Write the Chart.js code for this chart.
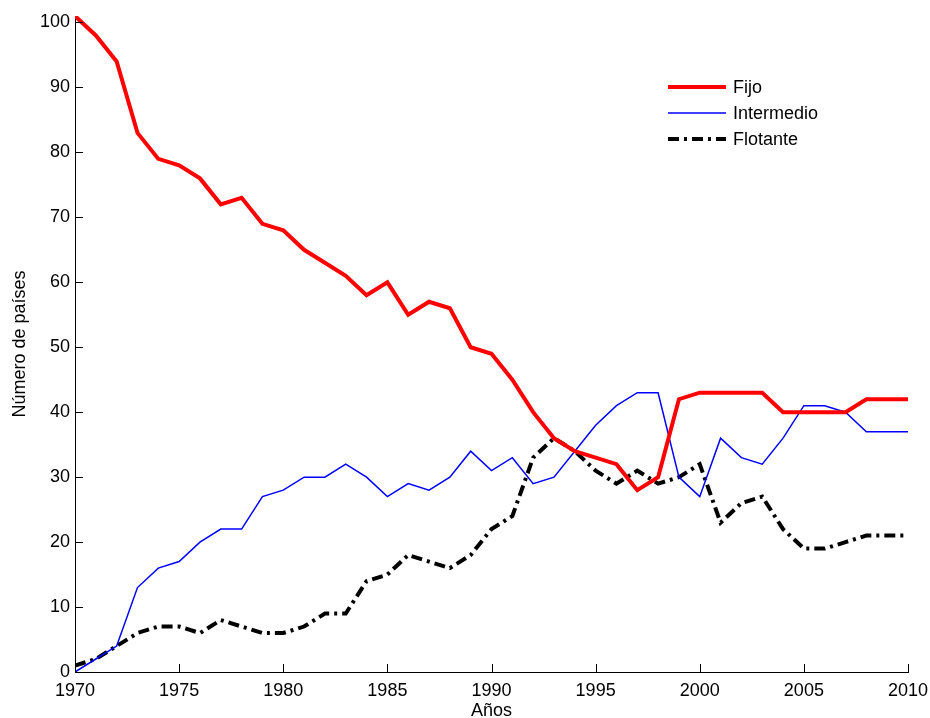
<!DOCTYPE html>
<html>
<head>
<meta charset="utf-8">
<script src="https://cdn.jsdelivr.net/npm/chart.js@4/dist/chart.umd.min.js"></script>
<style>
  html, body { margin: 0; padding: 0; background: #fff; }
  #wrap { width: 930px; height: 718px; position: relative; }
</style>
</head>
<body>
<div id="wrap"><canvas id="chart" width="930" height="718"></canvas></div>
<script>
// datos
const years = [];
for (let y = 1970; y <= 2010; y++) years.push(y);

const fijo = [101, 98, 94, 83, 79, 78, 76, 72, 73, 69, 68, 65, 63, 61, 58, 60, 55, 57, 56, 50,
    49, 45, 40, 36, 34, 33, 32, 28, 30, 42, 43, 43, 43, 43, 40, 40, 40, 40, 42, 42, 42];
const intermedio = [0, 2, 4, 13, 16, 17, 20, 22, 22, 27, 28, 30, 30, 32, 30, 27, 29, 28, 30, 34,
    31, 33, 29, 30, 34, 38, 41, 43, 43, 30, 27, 36, 33, 32, 36, 41, 41, 40, 37, 37, 37];
const flotante = [1, 2, 4, 6, 7, 7, 6, 8, 7, 6, 6, 7, 9, 9, 14, 15, 18, 17, 16, 18,
    22, 24, 33, 36, 34, 31, 29, 31, 29, 30, 32, 23, 26, 27, 22, 19, 19, 20, 21, 21, 21];

const xTicks = [1970, 1975, 1980, 1985, 1990, 1995, 2000, 2005, 2010];
const yTicks = [0, 10, 20, 30, 40, 50, 60, 70, 80, 90, 100];

const FONT = 'Liberation Sans, Arial, sans-serif';
const dashDot = [11, 5, 3, 5];

function toPoints(vals) {
    return vals.map((v, i) => ({ x: years[i], y: v }));
}

// marcas hacia dentro en los ejes
const innerTicks = {
    id: 'innerTicks',
    afterDraw(chart) {
        const ctx = chart.ctx;
        const xs = chart.scales.x, ys = chart.scales.y;
        ctx.save();
        ctx.strokeStyle = '#000';
        ctx.lineWidth = 1;
        ctx.beginPath();
        xTicks.forEach(v => {
            const px = Math.round(xs.getPixelForValue(v)) + 0.5;
            ctx.moveTo(px, ys.bottom);
            ctx.lineTo(px, ys.bottom - 8);
        });
        yTicks.forEach(v => {
            const py = Math.round(ys.getPixelForValue(v)) + 0.5;
            ctx.moveTo(xs.left, py);
            ctx.lineTo(xs.left + 8, py);
        });
        ctx.stroke();
        ctx.restore();
    }
};

// leyenda
const legendBox = {
    id: 'legendBox',
    afterDraw(chart) {
        const ctx = chart.ctx;
        ctx.save();
        ctx.font = '18px ' + FONT;
        ctx.textBaseline = 'middle';
        ctx.fillStyle = '#000';
        chart.data.datasets.forEach((ds, i) => {
            const y = 87 + i * 26;
            ctx.beginPath();
            ctx.strokeStyle = ds.borderColor;
            ctx.lineWidth = ds.borderWidth;
            ctx.setLineDash(ds.borderDash || []);
            ctx.moveTo(668, y);
            ctx.lineTo(726, y);
            ctx.stroke();
            ctx.setLineDash([]);
            ctx.fillText(ds.label, 733, y + 1);
        });
        ctx.restore();
    }
};

new Chart(document.getElementById('chart'), {
    type: 'line',
    data: {
        datasets: [
            { label: 'Fijo', data: toPoints(fijo), borderColor: '#ff0000', borderWidth: 4 },
            { label: 'Intermedio', data: toPoints(intermedio), borderColor: '#0000ff', borderWidth: 1.5 },
            { label: 'Flotante', data: toPoints(flotante), borderColor: '#000000', borderWidth: 4, borderDash: dashDot }
        ]
    },
    options: {
        responsive: false,
        animation: false,
        layout: { padding: { top: 16, right: 22, left: 0, bottom: 0 } },
        elements: {
            point: { radius: 0 },
            line: { tension: 0, borderCapStyle: 'butt', borderJoinStyle: 'miter' }
        },
        plugins: { legend: { display: false }, tooltip: { enabled: false } },
        scales: {
            x: {
                type: 'linear',
                min: 1970,
                max: 2010,
                afterFit: s => { s.height = 46; s.paddingLeft = 0; s.paddingRight = 0; },
                afterBuildTicks: s => { s.ticks = xTicks.map(v => ({ value: v })); },
                grid: { display: true, drawOnChartArea: false, drawTicks: false },
                border: { display: true, color: '#000', width: 1 },
                ticks: { color: '#000', font: { family: FONT, size: 18 }, padding: 8, maxRotation: 0, callback: v => String(v) },
                title: { display: true, text: 'Años', color: '#000', font: { family: FONT, size: 18 }, padding: { top: 0, bottom: -4 } }
            },
            y: {
                type: 'linear',
                min: 0,
                max: 101,
                afterFit: s => { s.width = 75; s.paddingTop = 0; s.paddingBottom = 0; },
                afterBuildTicks: s => { s.ticks = yTicks.map(v => ({ value: v })); },
                grid: { display: true, drawOnChartArea: false, drawTicks: false },
                border: { display: true, color: '#000', width: 1 },
                ticks: { color: '#000', font: { family: FONT, size: 18 }, padding: 5, callback: v => String(v) },
                title: { display: true, text: 'Número de países', color: '#000', font: { family: FONT, size: 18 }, padding: { top: 9, bottom: 0 } }
            }
        }
    },
    plugins: [innerTicks, legendBox]
});
</script>
</body>
</html>
